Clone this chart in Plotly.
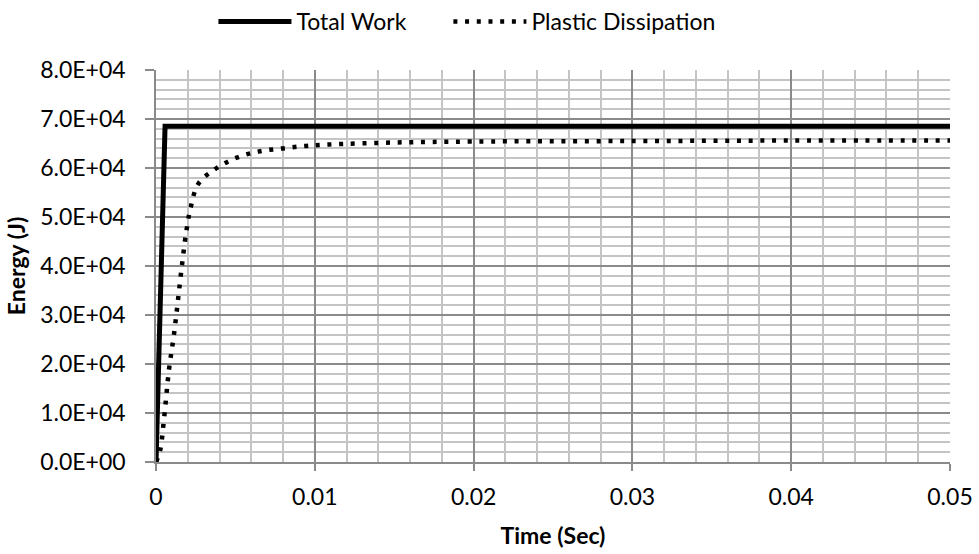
import plotly.graph_objects as go

# Data
time_total = [0, 0.00057, 0.05]
total_work = [0, 68500, 68500]

time_plastic = [0, 0.00025, 0.00052, 0.00082, 0.00113, 0.00139, 0.00164, 0.00193,
                0.0022, 0.00267, 0.00378, 0.00508, 0.00651, 0.00798, 0.00945,
                0.0109, 0.015, 0.02, 0.03, 0.04, 0.05]
plastic_dissipation = [0, 2200, 9300, 18900, 26000, 33200, 40300, 47500,
                       52200, 56800, 59900, 62100, 63400, 64000, 64500,
                       64800, 65200, 65400, 65500, 65600, 65600]

x_ticks = [0, 0.01, 0.02, 0.03, 0.04, 0.05]
x_tick_labels = ["0", "0.01", "0.02", "0.03", "0.04", "0.05"]
y_ticks = [0, 10000, 20000, 30000, 40000, 50000, 60000, 70000, 80000]
y_tick_labels = ["0.0E+00", "1.0E+04", "2.0E+04", "3.0E+04", "4.0E+04",
                 "5.0E+04", "6.0E+04", "7.0E+04", "8.0E+04"]

FONT = "Lato"
FS = 23
fig = go.Figure()
fig.add_trace(go.Scatter(x=time_total, y=total_work, mode="lines",
                         name="Total Work", legend="legend",
                         line=dict(color="black", width=5)))
fig.add_trace(go.Scatter(x=time_plastic, y=plastic_dissipation, mode="lines",
                         name="Plastic Dissipation", legend="legend2",
                         line_shape="spline",
                         line=dict(color="black", width=4.5, dash="4px,7.7px")))

major_grid = "#8a8a8a"
minor_grid = "#c4c4c4"

leg_common = dict(orientation="h", xanchor="left", xref="container",
                  y=1.0, yanchor="top", yref="container",
                  font=dict(family=FONT, size=FS, color="black"),
                  itemwidth=73, bgcolor="rgba(0,0,0,0)")

fig.update_layout(
    width=979, height=554,
    margin=dict(l=156, r=29, t=70, b=92, autoexpand=False),
    paper_bgcolor="white", plot_bgcolor="white",
    font=dict(family=FONT, size=FS, color="black"),
    legend=dict(x=0.218, **leg_common),
    legend2=dict(x=0.458, **leg_common),
    showlegend=True,
)
fig.update_xaxes(
    range=[0, 0.05], tickvals=x_ticks, ticktext=x_tick_labels,
    showgrid=True, gridcolor=major_grid, gridwidth=1.5,
    minor=dict(dtick=0.002, showgrid=True, gridcolor=minor_grid, gridwidth=1.5),
    showline=True, linecolor=major_grid, linewidth=1.5,
    ticks="outside", ticklen=7, tickcolor=major_grid, tickwidth=1.5,
    ticklabelstandoff=7,
    zeroline=False, automargin=False,
    title=dict(text="<b>Time (Sec)</b>", font=dict(family=FONT, size=FS), standoff=19),
)
fig.update_yaxes(
    range=[0, 80000], tickvals=y_ticks, ticktext=y_tick_labels,
    showgrid=True, gridcolor=major_grid, gridwidth=1.5,
    minor=dict(dtick=2000, showgrid=True, gridcolor=minor_grid, gridwidth=1.5),
    showline=True, linecolor=major_grid, linewidth=1.5,
    ticks="outside", ticklen=9, tickcolor=major_grid, tickwidth=1.5,
    ticklabelstandoff=15,
    zeroline=False, automargin=False,
    title=dict(text="<b>Energy (J)</b>", font=dict(family=FONT, size=FS), standoff=8),
)

fig.write_html("out.html", config={"displayModeBar": False})

# remove the default page margin so the figure sits at the window origin
with open("out.html", "r", encoding="utf-8") as f:
    html = f.read()
html = html.replace("<body>", '<body style="margin:0;padding:0;">', 1)
with open("out.html", "w", encoding="utf-8") as f:
    f.write(html)
